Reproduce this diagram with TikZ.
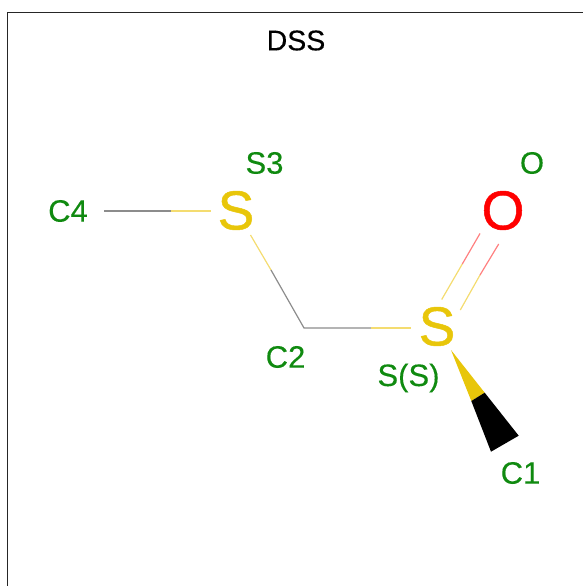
\documentclass[tikz,border=0pt]{standalone}
\usepackage{fontspec}
\setmainfont{Liberation Sans}
\newfontfamily\atomfont[FakeBold=0.9]{Liberation Sans}
\newfontfamily\namefont[FakeBold=0.25]{Liberation Sans}
\definecolor{sulfur}{HTML}{E8C60A}
\definecolor{oxy}{HTML}{FF0000}
\definecolor{lab}{HTML}{108A10}
\definecolor{palesulfur}{HTML}{F4DC70}
\definecolor{paleoxy}{HTML}{FF8080}
\definecolor{paleC}{HTML}{8C8C8C}
\tikzset{
  atomlab/.style={inner sep=0pt,anchor=center,font=\atomfont\fontsize{55}{55}\selectfont},
  namelab/.style={inner sep=0pt,anchor=center,text=lab,font=\namefont\fontsize{31}{31}\selectfont},
  titlelab/.style={inner sep=0pt,anchor=center,text=black,font=\namefont\fontsize{28.5}{30}\selectfont},
  halfs/.style={draw=palesulfur,line width=1.2pt},
  halfc/.style={draw=paleC,line width=1.2pt},
  halfo/.style={draw=paleoxy,line width=1.2pt},
}
\begin{document}
\begin{tikzpicture}[x=1pt,y=-1pt]
\useasboundingbox (0,0) rectangle (583,586);
\draw[line width=1pt,black!85] (7.5,586) -- (7.5,12.5) -- (583,12.5);
\node[titlelab] (title) at (296,40.5) {DSS};
\node[atomlab,text=sulfur] (S3) at (236,210.5) {S};
\node[atomlab,text=sulfur] (SS) at (437,326.5) {S};
\node[atomlab,text=oxy] (O) at (503,210.5) {O};
\node[namelab] (lS3) at (264.5,163) {S3};
\node[namelab] (lO) at (532,163) {O};
\node[namelab] (lC4) at (68,211) {C4};
\node[namelab] (lC2) at (285.5,357) {C2};
\node[namelab] (lSS) at (408.5,378) {S(S)};
\node[namelab] (lC1) at (520.5,473) {C1};
% bond ends
\coordinate (c4a) at (104,211);
\coordinate (c4m) at (171,211);
\coordinate (s3a) at (211,211);
\coordinate (s3b) at (250.5,235);
\coordinate (c2m) at (271,270);
\coordinate (c2) at (304,328);
\coordinate (c2n) at (371,328);
\coordinate (ssa) at (411,328);
\coordinate (d1a) at (441.7,299.5);
\coordinate (d1m) at (462.3,264);
\coordinate (d1b) at (480,233.5);
\coordinate (d2a) at (460.3,310);
\coordinate (d2m) at (480,275);
\coordinate (d2b) at (498.7,244);
\coordinate (w0) at (451,350);
\coordinate (w1) at (471.3,401);
\coordinate (w2) at (484.7,392.7);
\coordinate (w3) at (491,451.7);
\coordinate (w4) at (518.7,435.7);
\draw[halfc] (c4a) -- (c4m);
\draw[halfs] (c4m) -- (s3a);
\draw[halfs] (s3b) -- (c2m);
\draw[halfc] (c2m) -- (c2) -- (c2n);
\draw[halfs] (c2n) -- (ssa);
\draw[halfs] (d1a) -- (d1m);
\draw[halfo] (d1m) -- (d1b);
\draw[halfs] (d2a) -- (d2m);
\draw[halfo] (d2m) -- (d2b);
\fill[sulfur] (w0) -- (w1) -- (w2) -- cycle;
\fill[black] (w1) -- (w3) -- (w4) -- (w2) -- cycle;
\end{tikzpicture}
\end{document}
